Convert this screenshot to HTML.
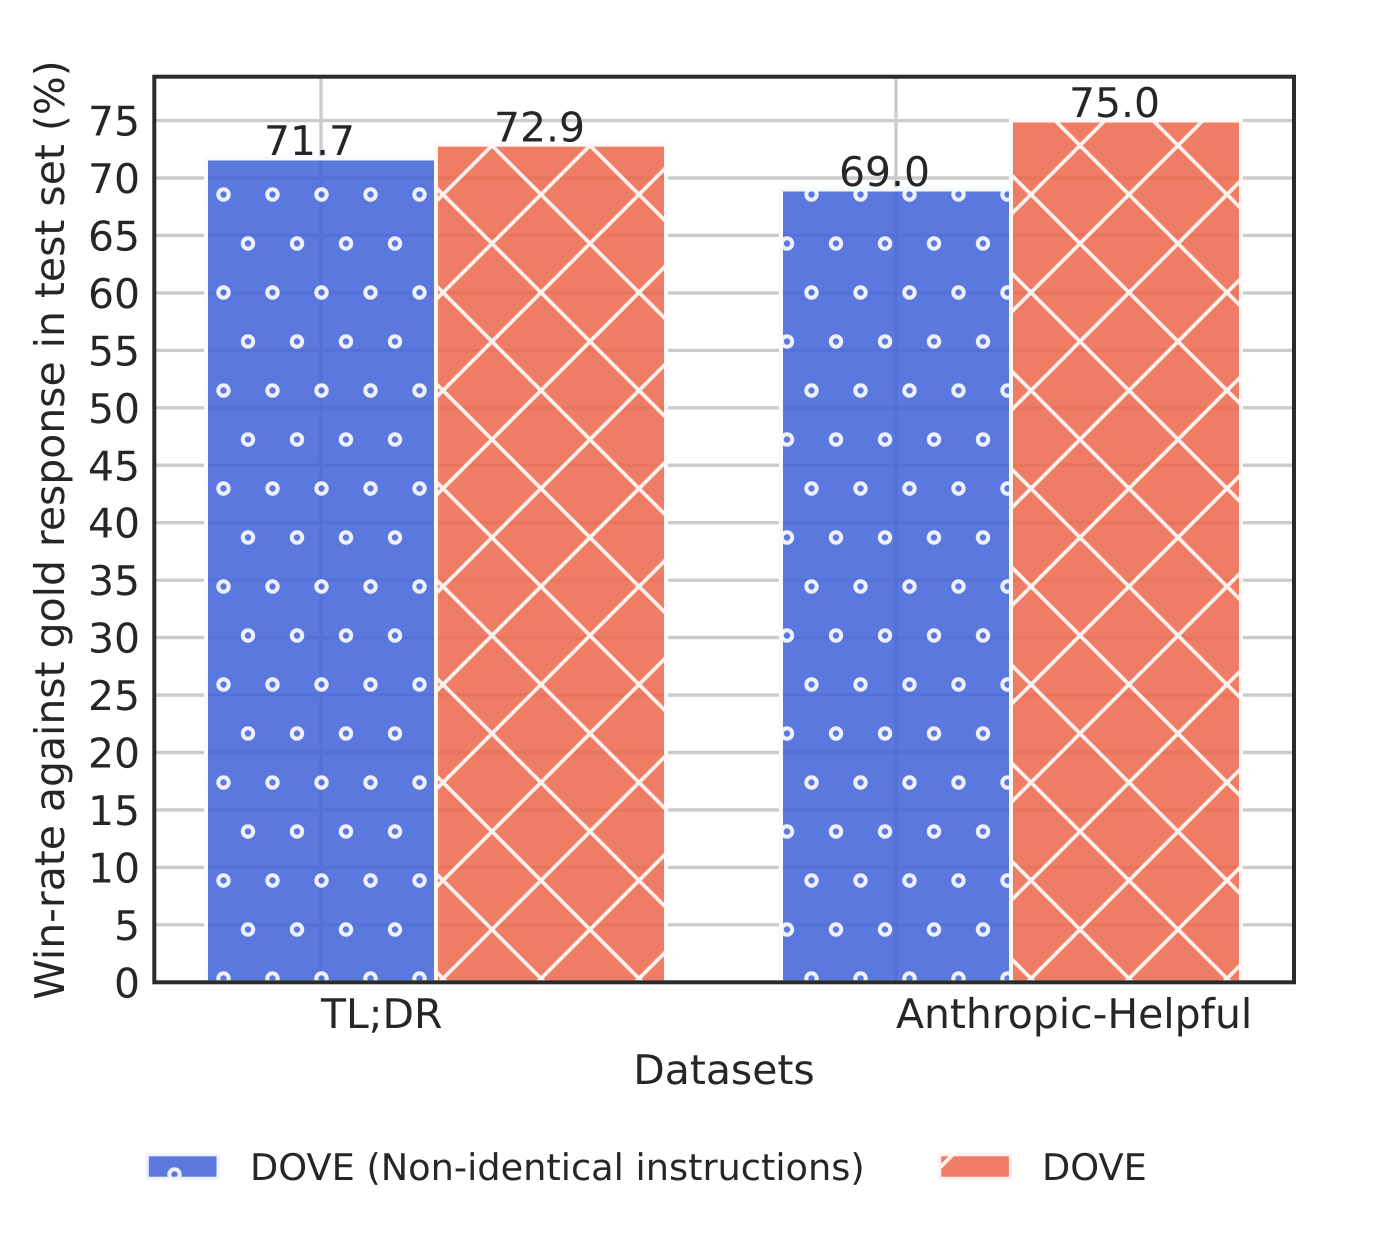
<!DOCTYPE html>
<html lang="en">
<head>
<meta charset="utf-8">
<title>Win-rate against gold response</title>
<style>
  html, body { margin: 0; padding: 0; background: #fff; }
  svg { display: block; }
  text { font-family: "DejaVu Sans", "Liberation Sans", sans-serif; fill: #262626; text-rendering: geometricPrecision; }
</style>
</head>
<body>
<svg id="chart" xmlns="http://www.w3.org/2000/svg" width="1388" height="1250" viewBox="0 0 1388 1250">
  <defs>
    <pattern id="hatch-dots" patternUnits="userSpaceOnUse" x="223.5" y="194.5" width="98" height="98">
      <g fill="none" stroke="#eef1fc" stroke-width="4">
        <circle cx="0" cy="0" r="5.2"/>
        <circle cx="98" cy="0" r="5.2"/>
        <circle cx="0" cy="98" r="5.2"/>
        <circle cx="98" cy="98" r="5.2"/>
        <circle cx="49" cy="0" r="5.2"/>
        <circle cx="49" cy="98" r="5.2"/>
        <circle cx="24.5" cy="49" r="5.2"/>
        <circle cx="73.5" cy="49" r="5.2"/>
      </g>
    </pattern>
    <pattern id="hatch-cross" patternUnits="userSpaceOnUse" x="443" y="194.5" width="98" height="98">
      <path d="M-10,-10 L108,108 M-10,108 L108,-10" fill="none" stroke="#fdf1ee" stroke-width="3.8"/>
    </pattern>
  </defs>
  <g id="grid"></g>
  <g id="bars"></g>
  <g id="labels"></g>
  <rect id="frame" x="154.3" y="76.7" width="1139.7" height="905.6" fill="none" stroke="#2b2b2b" stroke-width="4"/>
  <g id="yticks"></g>
  <g id="xticks"></g>
  <text transform="translate(64,530) rotate(-90)" text-anchor="middle" font-size="40.9">Win-rate against gold response in test set (%)</text>
  <text x="724" y="1084" text-anchor="middle" font-size="40.9">Datasets</text>
  <g>
    <g>
      <rect x="147.3" y="1154.8" width="70.7" height="23.4" fill="#3f62d9" fill-opacity="0.86"/>
      <rect x="147.3" y="1154.8" width="70.7" height="23.4" fill="url(#hatch-dots)" stroke="#eef1fc" stroke-width="3"/>
      <text x="250" y="1180" font-size="36.7">DOVE (Non-identical instructions)</text>
    </g>
    <g>
      <rect x="939.7" y="1154.8" width="70.7" height="23.4" fill="#ec6549" fill-opacity="0.85"/>
      <rect x="939.7" y="1154.8" width="70.7" height="23.4" fill="url(#hatch-cross)" stroke="#fdf1ee" stroke-width="3"/>
      <text x="1042" y="1180" font-size="36.7">DOVE</text>
    </g>
  </g>
</svg>
<script>
const categories = ['TL;DR', 'Anthropic-Helpful'];
const nonIdenticalValues = [71.7, 69.0];
const doveValues = [72.9, 75.0];
const yTickValues = [0, 5, 10, 15, 20, 25, 30, 35, 40, 45, 50, 55, 60, 65, 70, 75];

const NS = 'http://www.w3.org/2000/svg';
const xAxis = function (v) { return 321 + 575 * v; };
const yAxis = function (v) { return 982.3 - 11.49 * v; };
const BAR_WIDTH = 0.4;

function make(parent, tag, attrs, text) {
  const el = document.createElementNS(NS, tag);
  Object.keys(attrs).forEach(function (k) { el.setAttribute(k, attrs[k]); });
  if (text !== undefined) el.textContent = text;
  parent.appendChild(el);
  return el;
}

const gridG = document.getElementById('grid');
const barsG = document.getElementById('bars');
const labelsG = document.getElementById('labels');
const yTicksG = document.getElementById('yticks');
const xTicksG = document.getElementById('xticks');

yTickValues.forEach(function (t) {
  const line = make(gridG, 'line', { x1: 154.3, x2: 1294, y1: yAxis(t), y2: yAxis(t), stroke: '#cccccc', 'stroke-width': 3.4 });
  
  
  const label = make(yTicksG, 'text', { x: 140, y: yAxis(t) + 15, 'text-anchor': 'end', 'font-size': 40.9 }, String(t));
  
  
});

categories.forEach(function (c, i) {
  const line = make(gridG, 'line', { x1: xAxis(i), x2: xAxis(i), y1: 76.7, y2: 982.3, stroke: '#cccccc', 'stroke-width': 3.4 });
  
  
  const label = make(xTicksG, 'text', { x: xAxis(i), y: 1028, 'text-anchor': 'start', 'font-size': 40.9 }, c);
  
  
});

function drawSeries(values, offset, color, opacity, hatch, edgeColor) {
  values.forEach(function (v, i) {
    const left = xAxis(i - 0.2 + offset);
    const w = xAxis(i - 0.2 + offset + BAR_WIDTH) - left;
    const top = yAxis(v);
    const h = yAxis(0) - top;
    const bar = make(barsG, 'rect', { x: left, y: top, width: w, height: h, fill: color, 'fill-opacity': opacity });
    
    
    const pat = make(barsG, 'rect', { x: left, y: top, width: w, height: h, fill: 'url(#' + hatch + ')' });
    
    
    const edge = make(barsG, 'rect', { x: left, y: top, width: w, height: h, fill: 'none', stroke: edgeColor, 'stroke-width': 4 });
    
    
    const val = make(labelsG, 'text', { x: left + w / 2 - 11.5, y: top - 3.4, 'text-anchor': 'middle', 'font-size': 40.9 }, v.toFixed(1));
    
    
  });
}

drawSeries(nonIdenticalValues, 0, '#3f62d9', 0.86, 'hatch-dots', '#f9faff');
drawSeries(doveValues, BAR_WIDTH, '#ec6549', 0.85, 'hatch-cross', '#fff8f6');
</script>
</body>
</html>
